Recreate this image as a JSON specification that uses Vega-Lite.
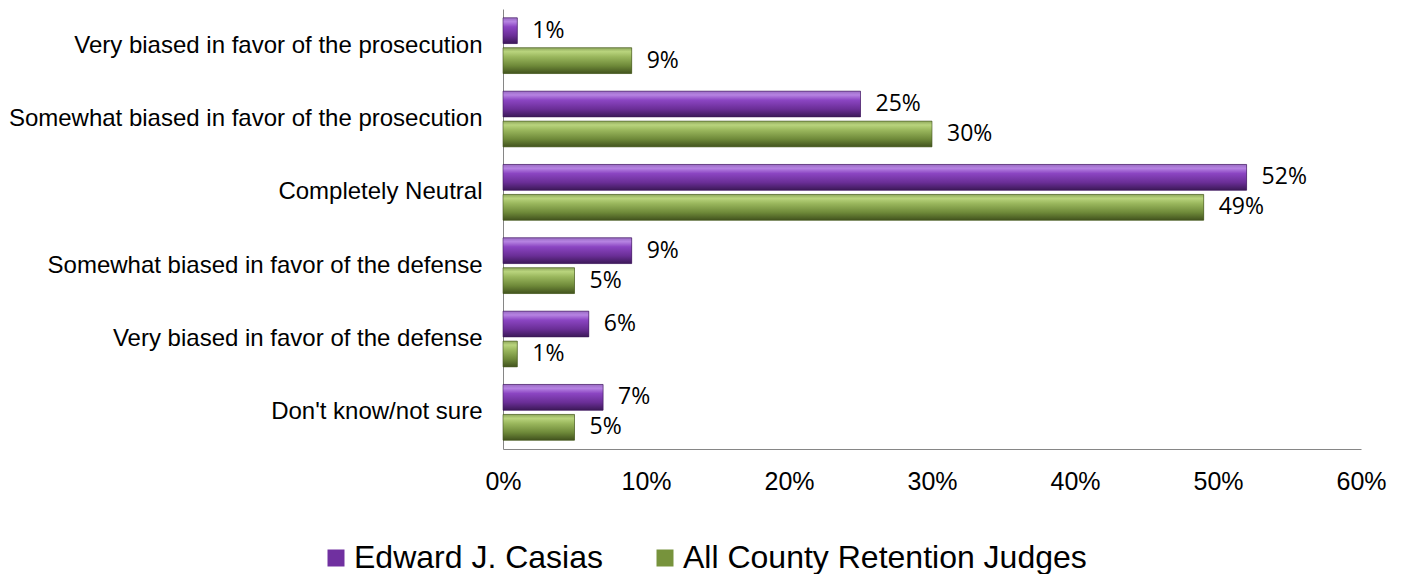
{
  "$schema": "https://vega.github.io/schema/vega-lite/v6.json",
  "width": 858,
  "height": 440,
  "padding": {"left": 0, "top": 9, "right": 0, "bottom": 0},
  "autosize": {"type": "pad"},
  "background": "white",
  "config": {"view": {"stroke": null}},
  "data": {
    "values": [
      {"category": "Very biased in favor of the prosecution", "series": "Edward J. Casias", "value": 0.01},
      {"category": "Very biased in favor of the prosecution", "series": "All County Retention Judges", "value": 0.09},
      {"category": "Somewhat biased in favor of the prosecution", "series": "Edward J. Casias", "value": 0.25},
      {"category": "Somewhat biased in favor of the prosecution", "series": "All County Retention Judges", "value": 0.30},
      {"category": "Completely Neutral", "series": "Edward J. Casias", "value": 0.52},
      {"category": "Completely Neutral", "series": "All County Retention Judges", "value": 0.49},
      {"category": "Somewhat biased in favor of the defense", "series": "Edward J. Casias", "value": 0.09},
      {"category": "Somewhat biased in favor of the defense", "series": "All County Retention Judges", "value": 0.05},
      {"category": "Very biased in favor of the defense", "series": "Edward J. Casias", "value": 0.06},
      {"category": "Very biased in favor of the defense", "series": "All County Retention Judges", "value": 0.01},
      {"category": "Don't know/not sure", "series": "Edward J. Casias", "value": 0.07},
      {"category": "Don't know/not sure", "series": "All County Retention Judges", "value": 0.05}
    ]
  },
  "encoding": {
    "y": {
      "field": "category",
      "type": "nominal",
      "sort": null,
      "scale": {"paddingInner": 0.24, "paddingOuter": 0.12},
      "axis": {
        "title": null,
        "domain": true,
        "domainColor": "#868686",
        "domainWidth": 1,
        "ticks": false,
        "tickSize": 0,
        "labelFont": "Liberation Sans",
        "labelFontSize": 24,
        "labelColor": "#000000",
        "labelPadding": 21,
        "labelLimit": 700,
        "minExtent": 503,
        "maxExtent": 503
      }
    },
    "x": {
      "field": "value",
      "type": "quantitative",
      "scale": {"domain": [0, 0.6], "nice": false},
      "axis": {
        "title": null,
        "grid": false,
        "domain": true,
        "domainColor": "#868686",
        "domainWidth": 1,
        "ticks": false,
        "tickSize": 0,
        "values": [0, 0.1, 0.2, 0.3, 0.4, 0.5, 0.6],
        "format": ".0%",
        "labelFont": "Liberation Sans",
        "labelFontSize": 25,
        "labelColor": "#000000",
        "labelPadding": 20,
        "labelFlush": false
      }
    },
    "yOffset": {
      "field": "series",
      "sort": null,
      "scale": {"paddingInner": 0.14, "paddingOuter": 0}
    }
  },
  "layer": [
    {
      "mark": {"type": "bar"},
      "encoding": {
        "color": {
          "field": "series",
          "type": "nominal",
          "sort": null,
          "scale": {"domain": ["Edward J. Casias", "All County Retention Judges"], "range": ["#7030A0", "#77933C"]},
          "legend": {
            "title": null,
            "orient": "none",
            "legendX": -183,
            "legendY": 533,
            "direction": "horizontal",
            "symbolType": "square",
            "symbolSize": 289,
            "symbolStrokeWidth": 0,
            "labelFont": "Liberation Sans",
            "labelFontSize": 32,
            "labelColor": "#000000",
            "labelOffset": 2,
            "columnPadding": 46,
            "labelLimit": 600
          }
        }
      }
    },
    {
      "transform": [{"filter": "datum.series === 'Edward J. Casias'"}],
      "mark": {
        "type": "bar",
        "stroke": "#3C1958",
        "strokeWidth": 0.6,
        "color": {
          "gradient": "linear", "x1": 0, "y1": 0, "x2": 0, "y2": 1,
          "stops": [
            {"offset": 0, "color": "#9A6CC4"},
            {"offset": 0.15, "color": "#B683E2"},
            {"offset": 0.35, "color": "#8B45C2"},
            {"offset": 0.7, "color": "#6A2E96"},
            {"offset": 1, "color": "#3C1958"}
          ]
        }
      }
    },
    {
      "transform": [{"filter": "datum.series === 'All County Retention Judges'"}],
      "mark": {
        "type": "bar",
        "stroke": "#42531E",
        "strokeWidth": 0.6,
        "color": {
          "gradient": "linear", "x1": 0, "y1": 0, "x2": 0, "y2": 1,
          "stops": [
            {"offset": 0, "color": "#8FA85C"},
            {"offset": 0.15, "color": "#B9D47D"},
            {"offset": 0.35, "color": "#9AB75D"},
            {"offset": 0.7, "color": "#6E8939"},
            {"offset": 1, "color": "#42531E"}
          ]
        }
      }
    },
    {
      "mark": {"type": "text", "align": "left", "baseline": "middle", "dx": 15, "font": "Open Sans", "fontSize": 23, "color": "#000000"},
      "encoding": {
        "text": {"field": "value", "type": "quantitative", "format": ".0%"}
      }
    }
  ]
}
